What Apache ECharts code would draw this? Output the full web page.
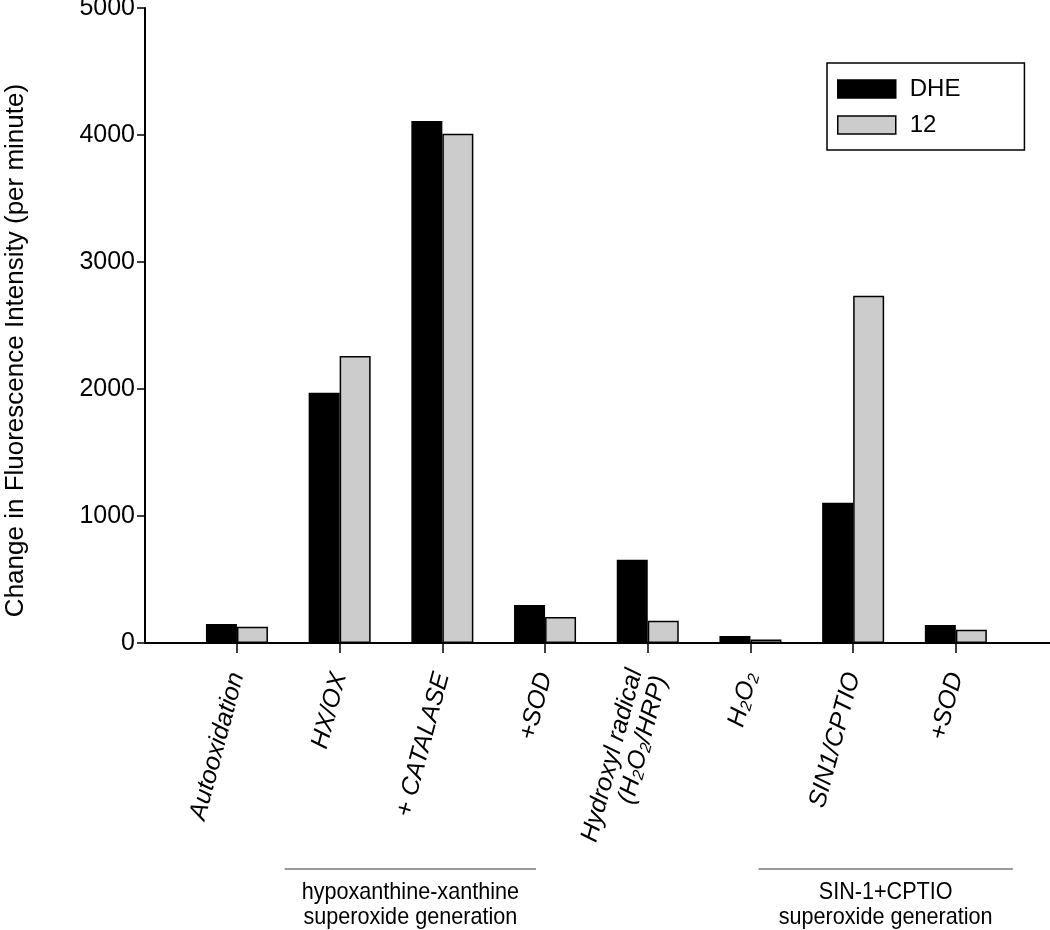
<!DOCTYPE html>
<html><head><meta charset="utf-8">
<script src="https://cdn.jsdelivr.net/npm/echarts@6/dist/echarts.min.js"></script>
<style>html,body{margin:0;padding:0;background:#fff}#c{width:1050px;height:930px}</style>
</head><body><div id="c"></div>
<script>
const categories = ['Autooxidation','HX/OX','+ CATALASE','+SOD','Hydroxyl radical\n(H2O2/HRP)','H2O2','SIN1/CPTIO','+SOD'];
const dheValues = [150, 1970, 4110, 300, 655, 55, 1105, 141];
const c12Values = [128, 2260, 4010, 205, 176, 28, 2735, 104];
const yTicks = [0, 1000, 2000, 3000, 4000, 5000];
const groupLabels = [
  {text: 'hypoxanthine-xanthine\nsuperoxide generation', from: 1, to: 3},
  {text: 'SIN-1+CPTIO\nsuperoxide generation', from: 5, to: 7}
];
const FONT = "'Liberation Sans', Arial, sans-serif";

function fmtLabel(s) {
  return s.replace(/H2O2/g, 'H{sub|2}O{sub|2}');
}

const chart = echarts.init(document.getElementById('c'));
const option = {
  animation: false,
  backgroundColor: '#fff',
  grid: [
    {left: 185.6, right: 42.8, top: 8, bottom: 287, containLabel: false, outerBoundsMode: 'none'},
    {left: 145, right: 0, top: 8, bottom: 287, containLabel: false, outerBoundsMode: 'none'}
  ],
  legend: {
    orient: 'vertical', left: 827, top: 63,
    borderColor: '#000', borderWidth: 1.5,
    padding: [14, 64, 13, 10],
    itemWidth: 58, itemHeight: 18, itemGap: 12, icon: 'rect',
    itemStyle: {borderColor: '#000', borderWidth: 1.5},
    textStyle: {fontFamily: FONT, fontSize: 24, color: '#000', padding: [0, 0, 0, 9]},
    data: ['DHE', '12']
  },
  xAxis: [
    {
      type: 'category', gridIndex: 0, data: categories,
      axisLine: {show: false},
      axisTick: {show: true, alignWithLabel: true, length: 10, lineStyle: {color: '#000', width: 1.5}},
      axisLabel: {
        interval: 0, rotate: 75, margin: 30,
        fontFamily: FONT, fontSize: 25, fontStyle: 'italic', color: '#000', lineHeight: 26,
        formatter: fmtLabel,
        rich: {sub: {fontFamily: FONT, fontSize: 16, fontStyle: 'italic', color: '#000', verticalAlign: 'bottom', lineHeight: 26}}
      }
    },
    {
      type: 'value', gridIndex: 1, min: 0, max: 1,
      axisLine: {show: true, onZero: false, lineStyle: {color: '#000', width: 2}},
      axisTick: {show: false}, axisLabel: {show: false}, splitLine: {show: false}
    }
  ],
  yAxis: [
    {
      type: 'value', gridIndex: 0, min: 0, max: 5000, interval: 1000,
      axisLine: {show: false}, axisTick: {show: false}, axisLabel: {show: false}, splitLine: {show: false}
    },
    {
      type: 'value', gridIndex: 1, min: yTicks[0], max: yTicks[yTicks.length - 1], interval: 1000,
      name: 'Change in Fluorescence Intensity (per minute)',
      nameLocation: 'middle', nameGap: 116,
      nameTextStyle: {fontFamily: FONT, fontSize: 26, color: '#000', padding: [0, 50, 0, 0]},
      axisLine: {show: true, lineStyle: {color: '#000', width: 2}},
      axisTick: {show: true, length: 8, lineStyle: {color: '#000', width: 1.5}},
      axisLabel: {fontFamily: FONT, fontSize: 25, color: '#000', margin: 10, formatter: v => String(v)},
      splitLine: {show: false}
    }
  ],
  series: [
    {
      name: 'DHE', type: 'bar', xAxisIndex: 0, yAxisIndex: 0, data: dheValues,
      barWidth: 31, barGap: '0%',
      itemStyle: {color: '#000', borderColor: '#000', borderWidth: 1.5}
    },
    {
      name: '12', type: 'bar', xAxisIndex: 0, yAxisIndex: 0, data: c12Values,
      barWidth: 31, barGap: '0%',
      itemStyle: {color: '#cccccc', borderColor: '#000', borderWidth: 1.5}
    }
  ]
};
chart.setOption(option);

// group annotations placed relative to category positions
const offsets = [[-55, -9], [8, 57]];
const graphics = [];
groupLabels.forEach((g, i) => {
  const lx1 = chart.convertToPixel({xAxisIndex: 0}, g.from) + offsets[i][0];
  const lx2 = chart.convertToPixel({xAxisIndex: 0}, g.to) + offsets[i][1];
  const cx = (lx1 + lx2) / 2;
  graphics.push({type: 'line', shape: {x1: lx1, y1: 869, x2: lx2, y2: 869}, style: {stroke: '#999', lineWidth: 2}});
  graphics.push({type: 'text', x: cx, y: 880, scaleX: 0.9, originX: 0,
    style: {text: g.text, fontFamily: FONT, fontSize: 24, lineHeight: 25, fill: '#000', align: 'center', verticalAlign: 'top'}});
});
chart.setOption({graphic: graphics});
</script>
</body></html>
